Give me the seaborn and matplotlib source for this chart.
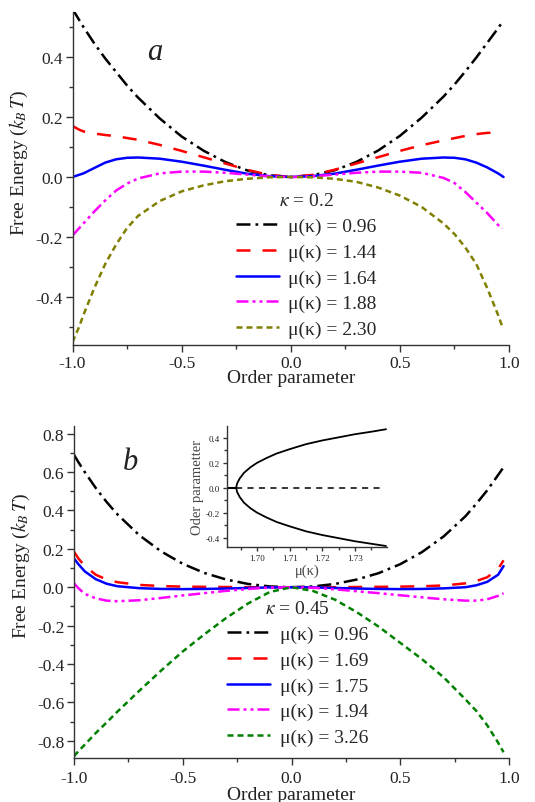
import matplotlib
matplotlib.use("Agg")
import matplotlib.pyplot as plt
import seaborn as sns
from matplotlib.ticker import MultipleLocator, FormatStrFormatter

sns.set_style("ticks")
plt.rcParams['font.family'] = ['Liberation Serif', 'DejaVu Serif']
plt.rcParams['mathtext.fontset'] = 'stix'
plt.rcParams['axes.unicode_minus'] = False

# ---- panel a : kappa = 0.2 ----
x_a = [-1.0, -0.95, -0.9, -0.85, -0.8, -0.75, -0.7, -0.6, -0.5, -0.4, -0.3, -0.2, -0.1, 0.0,
       0.1, 0.2, 0.3, 0.4, 0.5, 0.6, 0.7, 0.75, 0.8, 0.85, 0.9, 0.95, 0.97]
a_096 = [0.56, 0.50, 0.445, 0.395, 0.35, 0.305, 0.265, 0.195, 0.135, 0.088, 0.05, 0.022, 0.006, 0.0,
         0.006, 0.022, 0.05, 0.088, 0.137, 0.198, 0.268, 0.308, 0.352, 0.398, 0.447, 0.496, 0.517]
x_a_red = [-1.0, -0.97, -0.95, -0.9, -0.85, -0.8, -0.7, -0.6, -0.5, -0.4, -0.3, -0.2, -0.1, 0.0,
           0.1, 0.2, 0.3, 0.4, 0.5, 0.6, 0.7, 0.8, 0.85, 0.9, 0.93]
a_144 = [0.17, 0.158, 0.152, 0.145, 0.14, 0.136, 0.124, 0.107, 0.087, 0.066, 0.045, 0.024, 0.007, 0.0,
         0.007, 0.024, 0.045, 0.066, 0.087, 0.106, 0.122, 0.137, 0.143, 0.147, 0.148]
x_a_blue = [-1.0, -0.95, -0.9, -0.85, -0.8, -0.75, -0.7, -0.6, -0.5, -0.4, -0.3, -0.2, -0.1, 0.0,
            0.1, 0.2, 0.3, 0.4, 0.5, 0.6, 0.7, 0.75, 0.8, 0.85, 0.9, 0.95, 0.975]
a_164 = [0.0, 0.012, 0.03, 0.048, 0.059, 0.064, 0.065, 0.061, 0.051, 0.038, 0.024, 0.011, 0.003, 0.0,
         0.003, 0.011, 0.024, 0.038, 0.051, 0.061, 0.065, 0.064, 0.059, 0.048, 0.032, 0.012, 0.0]
a_188 = [-0.195, -0.155, -0.115, -0.078, -0.045, -0.022, -0.005, 0.012, 0.018, 0.018, 0.014, 0.008, 0.002, 0.0,
         0.002, 0.008, 0.014, 0.018, 0.018, 0.014, -0.003, -0.02, -0.05, -0.085, -0.12, -0.16, -0.172]
x_a_olive = [-1.0, -0.97, -0.95, -0.9, -0.85, -0.8, -0.75, -0.7, -0.6, -0.5, -0.4, -0.3, -0.2, -0.1, 0.0,
             0.1, 0.2, 0.3, 0.4, 0.5, 0.6, 0.7, 0.75, 0.8, 0.85, 0.9, 0.95, 0.97]
a_230 = [-0.55, -0.5, -0.46, -0.37, -0.29, -0.225, -0.17, -0.13, -0.08, -0.048, -0.028, -0.014, -0.006, -0.001, 0.0,
         -0.001, -0.006, -0.016, -0.035, -0.062, -0.1, -0.155, -0.19, -0.235, -0.29, -0.37, -0.46, -0.5]

# ---- panel b : kappa = 0.45 ----
x_b = [-1.0, -0.98, -0.95, -0.9, -0.85, -0.8, -0.7, -0.6, -0.5, -0.4, -0.3, -0.2, -0.1, 0.0,
       0.1, 0.2, 0.3, 0.4, 0.5, 0.6, 0.7, 0.8, 0.85, 0.9, 0.95, 0.975]
b_096 = [0.69, 0.652, 0.599, 0.517, 0.444, 0.379, 0.271, 0.187, 0.122, 0.074, 0.04, 0.017, 0.004, 0.0,
         0.004, 0.017, 0.04, 0.073, 0.12, 0.183, 0.265, 0.37, 0.435, 0.505, 0.585, 0.625]
b_169 = [0.185, 0.15, 0.11, 0.065, 0.04, 0.026, 0.012, 0.006, 0.003, 0.002, 0.001, 0.0, 0.0, 0.0,
         0.0, 0.0, 0.001, 0.002, 0.003, 0.005, 0.009, 0.02, 0.032, 0.052, 0.095, 0.14]
b_175 = [0.15, 0.12, 0.082, 0.042, 0.018, 0.005, -0.005, -0.009, -0.01, -0.009, -0.007, -0.004, -0.001, 0.0,
         -0.001, -0.004, -0.007, -0.009, -0.01, -0.009, -0.006, 0.0, 0.01, 0.028, 0.065, 0.11]
b_194 = [0.02, -0.005, -0.035, -0.058, -0.07, -0.073, -0.068, -0.056, -0.043, -0.031, -0.019, -0.009, -0.002, 0.0,
         -0.003, -0.011, -0.021, -0.031, -0.042, -0.053, -0.063, -0.07, -0.07, -0.063, -0.045, -0.032]
b_326 = [-0.88, -0.855, -0.82, -0.76, -0.705, -0.648, -0.54, -0.435, -0.335, -0.245, -0.16, -0.085, -0.025, 0.0,
         -0.02, -0.065, -0.13, -0.205, -0.29, -0.375, -0.47, -0.585, -0.645, -0.72, -0.81, -0.86]

# ---- inset : bifurcation ----
mu_branch = [1.6936, 1.6939, 1.6947, 1.696, 1.698, 1.700, 1.703, 1.706, 1.710, 1.715,
             1.720, 1.725, 1.730, 1.735, 1.7395]
op_upper = [0.0, 0.035, 0.075, 0.12, 0.165, 0.2, 0.24, 0.275, 0.31, 0.35,
            0.38, 0.405, 0.43, 0.45, 0.47]
op_lower = [0.0, -0.035, -0.075, -0.12, -0.165, -0.2, -0.24, -0.275, -0.31, -0.35,
            -0.38, -0.405, -0.43, -0.45, -0.468]
mu_stable = [1.6908, 1.6936]
mu_unstable = [1.6936, 1.738]

DASHDOT = (0, (5.6, 2.0, 1.1, 2.0))
DASHED = (0, (5.6, 4.8))
DASHDOTDOT = (0, (4.8, 1.6, 1.2, 1.6, 1.2, 1.6))
SHORTDASH = (0, (2.4, 1.6))

series_a = [
    (x_a, a_096, "black", DASHDOT, "μ(κ) = 0.96"),
    (x_a_red, a_144, "red", DASHED, "μ(κ) = 1.44"),
    (x_a_blue, a_164, "blue", "-", "μ(κ) = 1.64"),
    (x_a, a_188, "magenta", DASHDOTDOT, "μ(κ) = 1.88"),
    (x_a_olive, a_230, "#808000", SHORTDASH, "μ(κ) = 2.30"),
]
series_b = [
    (x_b, b_096, "black", DASHDOT, "μ(κ) = 0.96"),
    (x_b, b_169, "red", DASHED, "μ(κ) = 1.69"),
    (x_b, b_175, "blue", "-", "μ(κ) = 1.75"),
    (x_b, b_194, "magenta", DASHDOTDOT, "μ(κ) = 1.94"),
    (x_b, b_326, "#008000", SHORTDASH, "μ(κ) = 3.26"),
]

W, H = 535, 803
fig = plt.figure(figsize=(W / 100, H / 100), dpi=100)


def px_axes(left, top, right, bottom):
    return fig.add_axes([left / W, 1 - bottom / H, (right - left) / W, (bottom - top) / H])


def style_axes(ax, tick_size, length=5, minor_len=3, pad=2):
    sns.despine(ax=ax)
    for s in ["left", "bottom"]:
        ax.spines[s].set_linewidth(1.0)
        ax.spines[s].set_color("#333333")
    ax.tick_params(which="major", direction="out", length=length, width=1, color="#333333",
                   labelsize=tick_size, labelcolor="#222222", pad=pad)
    ax.tick_params(which="minor", direction="out", length=minor_len, width=1, color="#333333")


def main_panel(ax, series, ylim, kappa_text, legend_anchor, letter, letter_pos):
    for x, y, c, ls, lab in series:
        sns.lineplot(x=x, y=y, ax=ax, color=c, linewidth=1.8, linestyle=ls, label=lab,
                     estimator=None, sort=False)
    ax.set_xlim(-1.0, 1.0)
    ax.set_ylim(*ylim)
    ax.xaxis.set_major_locator(MultipleLocator(0.5))
    ax.xaxis.set_minor_locator(MultipleLocator(0.25))
    ax.yaxis.set_major_locator(MultipleLocator(0.2))
    ax.yaxis.set_minor_locator(MultipleLocator(0.1))
    ax.xaxis.set_major_formatter(FormatStrFormatter("%.1f"))
    ax.yaxis.set_major_formatter(FormatStrFormatter("%.1f"))
    style_axes(ax, 12.5)
    ax.set_xlabel("Order parameter", fontsize=14, labelpad=-1, color="#222222")
    ax.set_ylabel("Free Energy ($k_B\\,T$)", fontsize=14, color="#222222")
    ax.yaxis.set_label_coords(-0.097, 0.55)
    ax.legend(title=kappa_text, frameon=False, fontsize=14, title_fontsize=14,
              handlelength=2.2, handletextpad=0.5, labelspacing=0.42,
              borderpad=0, borderaxespad=0, loc="upper left",
              bbox_to_anchor=(legend_anchor[0] / W, 1 - legend_anchor[1] / H),
              bbox_transform=fig.transFigure)
    fig.text(letter_pos[0] / W, 1 - letter_pos[1] / H, letter, style="italic",
             fontsize=22, ha="center", va="center", color="#222222")


ax_a = px_axes(72.5, 13, 509, 346)
main_panel(ax_a, series_a, (-0.56, 0.55), "$\\kappa$ = 0.2", (236, 193), "a", (155, 52))

ax_b = px_axes(74, 427, 509, 759)
main_panel(ax_b, series_b, (-0.89, 0.84), "$\\kappa$ = 0.45", (227, 601), "b", (130, 463))
ax_b.yaxis.set_label_coords(-0.097, 0.58)
ax_b.tick_params(axis="x", which="major", pad=4)
ax_b.xaxis.labelpad = 0

# inset
ax_in = px_axes(227, 427, 387, 548)
sns.lineplot(x=mu_branch, y=op_upper, ax=ax_in, color="black", linewidth=1.3, estimator=None, sort=False)
sns.lineplot(x=mu_branch, y=op_lower, ax=ax_in, color="black", linewidth=1.3, estimator=None, sort=False)
sns.lineplot(x=mu_stable, y=[0.0, 0.0], ax=ax_in, color="black", linewidth=1.5, estimator=None, sort=False)
sns.lineplot(x=mu_unstable, y=[0.0, 0.0], ax=ax_in, color="black", linewidth=1.1,
             linestyle=(0, (4, 3.5)), estimator=None, sort=False)
ax_in.set_xlim(1.6908, 1.7398)
ax_in.set_ylim(-0.476, 0.496)
ax_in.xaxis.set_major_locator(MultipleLocator(0.01))
ax_in.xaxis.set_minor_locator(MultipleLocator(0.005))
ax_in.yaxis.set_major_locator(MultipleLocator(0.2))
ax_in.yaxis.set_minor_locator(MultipleLocator(0.1))
ax_in.xaxis.set_major_formatter(FormatStrFormatter("%.2f"))
ax_in.yaxis.set_major_formatter(FormatStrFormatter("%.1f"))
style_axes(ax_in, 6.5, length=3, minor_len=2)
ax_in.set_xlabel("μ(κ)", fontsize=10.5, labelpad=1, color="#444444")
ax_in.set_ylabel("Oder parametter", fontsize=10.5, labelpad=1, color="#444444")

fig.savefig("out.png", dpi=100)
